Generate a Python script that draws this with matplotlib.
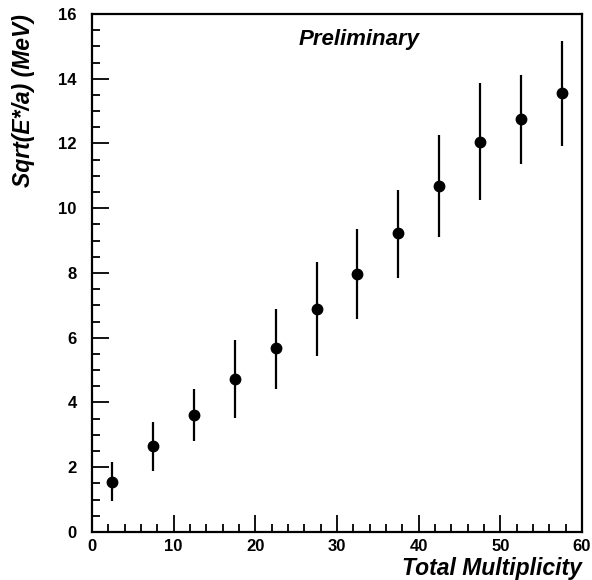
import numpy as np
import matplotlib
matplotlib.use("Agg")
import matplotlib.pyplot as plt
from matplotlib.ticker import MultipleLocator

# data
mult = [2.5, 7.5, 12.5, 17.5, 22.5, 27.5, 32.5, 37.5, 42.5, 47.5, 52.5, 57.5]
sqrt_e = [1.55, 2.65, 3.62, 4.72, 5.67, 6.90, 7.98, 9.23, 10.70, 12.05, 12.75, 13.55]
err_lo = [0.97, 1.89, 2.81, 3.51, 4.43, 5.44, 6.57, 7.86, 9.11, 10.25, 11.36, 11.92]
err_hi = [2.17, 3.40, 4.41, 5.93, 6.90, 8.34, 9.37, 10.57, 12.25, 13.87, 14.10, 15.17]

plt.rcParams['font.family'] = ['Liberation Sans', 'DejaVu Sans']

fig = plt.figure(figsize=(5.92, 5.8), dpi=100)
ax = fig.add_axes([0.1554, 0.0828, 0.8276, 0.8931])

y = np.array(sqrt_e)
yerr = [y - np.array(err_lo), np.array(err_hi) - y]
ax.errorbar(mult, y, yerr=yerr, fmt='o', color='black', ms=7.5,
            elinewidth=1.6, capsize=0)

ax.set_xlim(0, 60)
ax.set_ylim(0, 16)
ax.xaxis.set_major_locator(MultipleLocator(10))
ax.xaxis.set_minor_locator(MultipleLocator(2))
ax.yaxis.set_major_locator(MultipleLocator(2))
ax.yaxis.set_minor_locator(MultipleLocator(0.5))
ax.tick_params(which='both', direction='in', top=False, right=False,
               width=1.3, labelsize=12)
ax.tick_params(which='major', length=12)
ax.tick_params(which='minor', length=6)
ax.tick_params(axis='x', which='major', pad=5)
ax.tick_params(axis='y', which='major', pad=11)
for lbl in ax.get_xticklabels() + ax.get_yticklabels():
    lbl.set_fontweight('bold')
for s in ax.spines.values():
    s.set_linewidth(1.6)

ax.set_xlabel('Total Multiplicity', fontsize=16.5, fontweight='bold',
              fontstyle='italic', loc='right')
ax.xaxis.set_label_coords(1.0, -0.048)
ax.set_ylabel('Sqrt(E*/a) (MeV)', fontsize=16.5, fontweight='bold',
              fontstyle='italic', loc='top')
ax.yaxis.set_label_coords(-0.117, 1.0)
ax.text(0.4224, 0.950, 'Preliminary', transform=ax.transAxes, fontsize=16,
        fontweight='bold', fontstyle='italic', va='center', ha='left')

fig.savefig('out.png', dpi=100)
